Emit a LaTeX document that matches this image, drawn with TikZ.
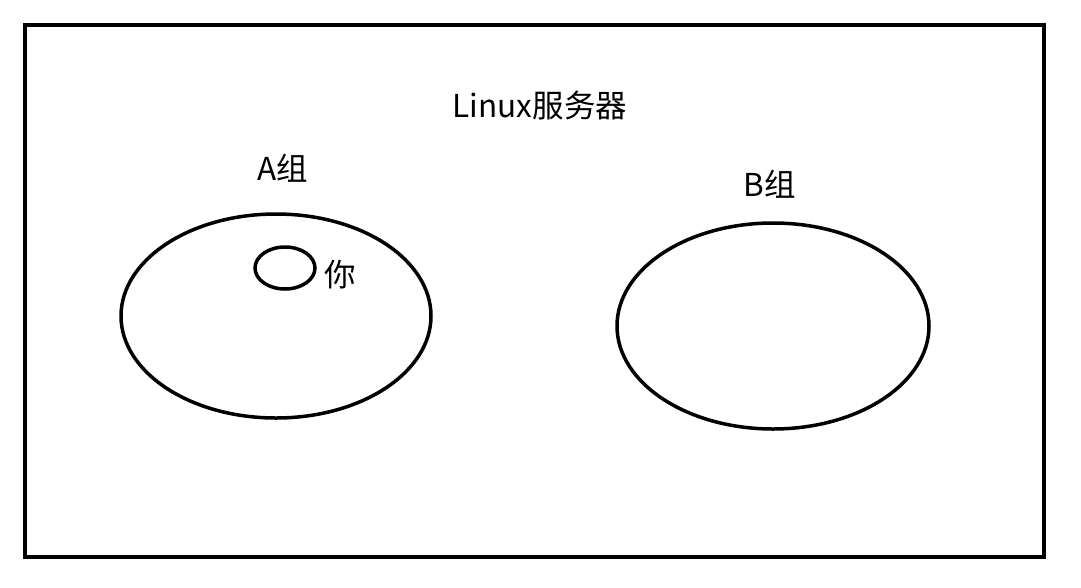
\documentclass[tikz,border=0pt]{standalone}
\usepackage{fontspec}
\setmainfont{Noto Sans CJK SC}
\begin{document}
\begin{tikzpicture}[x=1pt,y=-1pt,
  lbl/.style={inner sep=0pt,font=\fontsize{31.5}{38}\selectfont},
  ring/.style={draw=black,line width=3.5pt}]
\useasboundingbox (0,0) rectangle (1081,587);
\node[draw=black,line width=4pt,minimum width=1019pt,minimum height=532pt,inner sep=0pt] (frame) at (534.5,291) {};
\node[lbl] (title) at (540,106) {Linux服务器};
\node[lbl] (la) at (283,168) {A组};
\node[lbl] (lb) at (770,184) {B组};
\draw[ring] (276,316) ellipse [x radius=155, y radius=102];
\draw[ring] (285,268) ellipse [x radius=30, y radius=21];
\node[lbl] (you) at (340,275) {你};
\draw[ring] (773,326) ellipse [x radius=156, y radius=103];
\end{tikzpicture}
\end{document}
